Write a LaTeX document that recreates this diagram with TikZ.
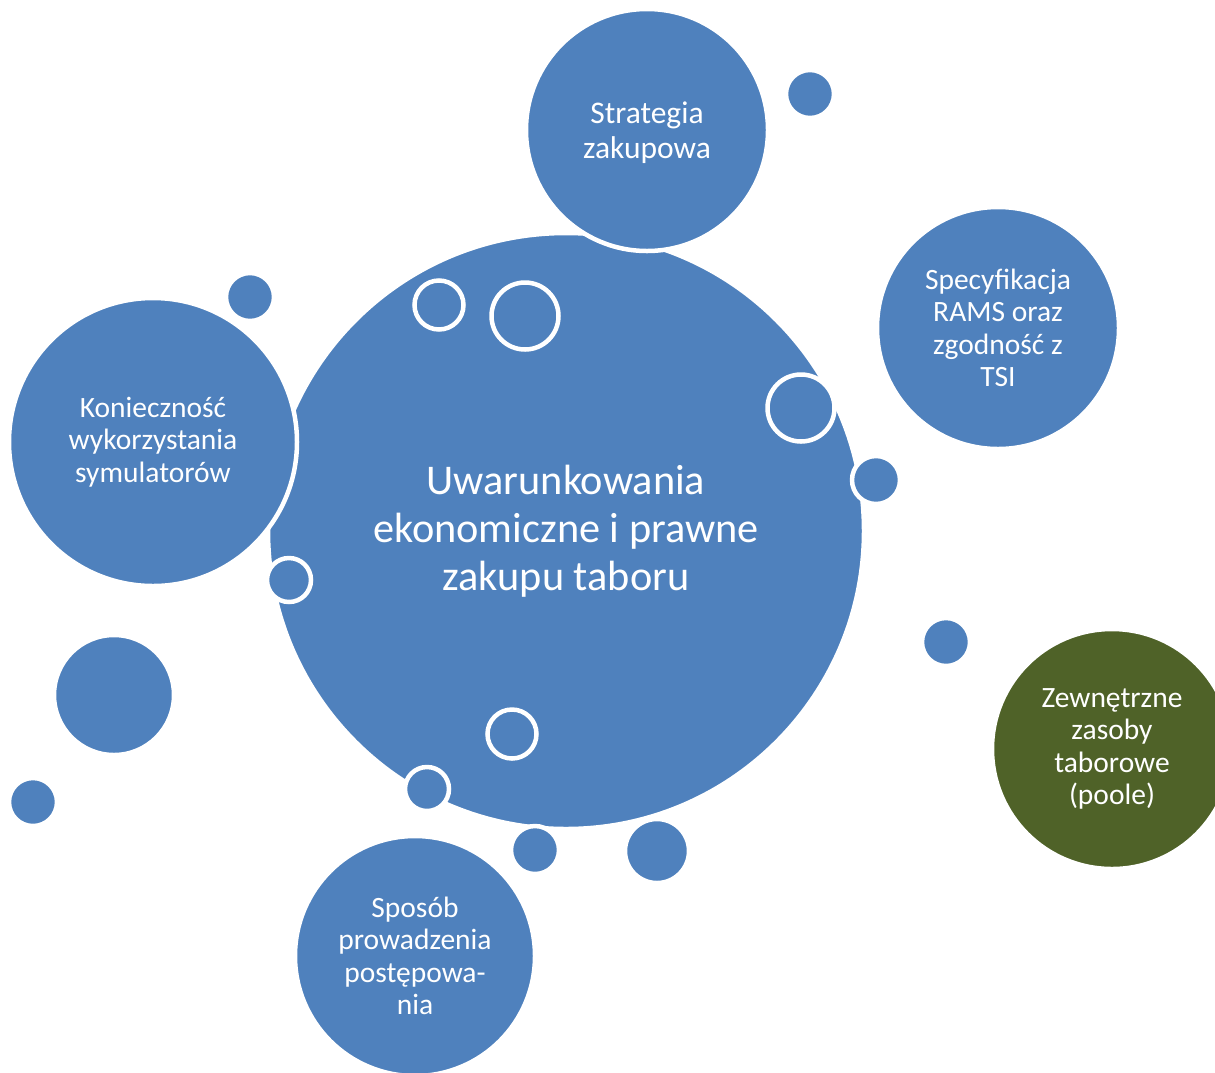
\documentclass[tikz,border=0pt]{standalone}
\usepackage{fontspec}
\setmainfont{Carlito}
\definecolor{bubbleblue}{HTML}{4F81BD}
\definecolor{bubblegreen}{HTML}{4F6228}
\begin{document}
\begin{tikzpicture}[x=1pt,y=-1pt,
  bubble/.style={circle, fill=bubbleblue, draw=white, line width=4.5pt, inner sep=0pt,
    text=white, align=center, font=\fontsize{29.5}{32.5}\selectfont},
  dot/.style={circle, fill=bubbleblue, draw=white, line width=4.5pt, inner sep=0pt},
  caption/.style={text=white, align=center, inner sep=0pt}]
\useasboundingbox (0,0) rectangle (1215,1072);
\clip (0,0) rectangle (1215,1072);
% central bubble
\node[bubble, minimum size=596pt, font=\fontsize{42.3}{48}\selectfont] (main) at (566,531)
  {Uwarunkowania\\ekonomiczne i prawne\\zakupu taboru};
% satellite bubbles
\node[bubble, minimum size=242pt] (strat) at (647,130) {};
\node[caption, font=\fontsize{31.5}{35}\selectfont] (strattext) at ([yshift=-3pt]strat.center) {Strategia\\zakupowa};
\node[bubble, minimum size=242pt] (spec) at (998,328) {Specyfikacja\\RAMS oraz\\zgodność z\\TSI};
\node[bubble, minimum size=288pt] (symul) at (153,442) {Konieczność\\wykorzystania\\symulatorów};
\node[bubble, minimum size=240pt, fill=bubblegreen] (pool) at (1112,749) {Zewnętrzne\\zasoby\\taborowe\\(poole)};
\node[bubble, minimum size=240pt] (spos) at (415,956) {Sposób\\prowadzenia\\postępowa-\\nia};
% small bubbles
\node[dot, minimum size=48pt] (d1) at (810,94) {};
\node[dot, minimum size=48pt] (d2) at (250,297) {};
\node[dot, minimum size=120pt] (d3) at (114,695) {};
\node[dot, minimum size=48pt] (d4) at (33,802) {};
\node[dot, minimum size=48pt] (d5) at (946,642) {};
\node[dot, minimum size=48pt] (d6) at (535,850) {};
\node[dot, minimum size=64pt] (d7) at (657,851) {};
\node[dot, minimum size=48pt] (d8) at (876,480) {};
% ringed bubbles on the central one
\node[dot, minimum size=49pt] (r1) at (439,305) {};
\node[dot, minimum size=67pt] (r2) at (525,316) {};
\node[dot, minimum size=67pt] (r3) at (801,408) {};
\node[dot, minimum size=44pt] (r4) at (289,580) {};
\node[dot, minimum size=49pt] (r5) at (512,734) {};
\node[dot, minimum size=44pt] (r6) at (427,789) {};
\end{tikzpicture}
\end{document}
